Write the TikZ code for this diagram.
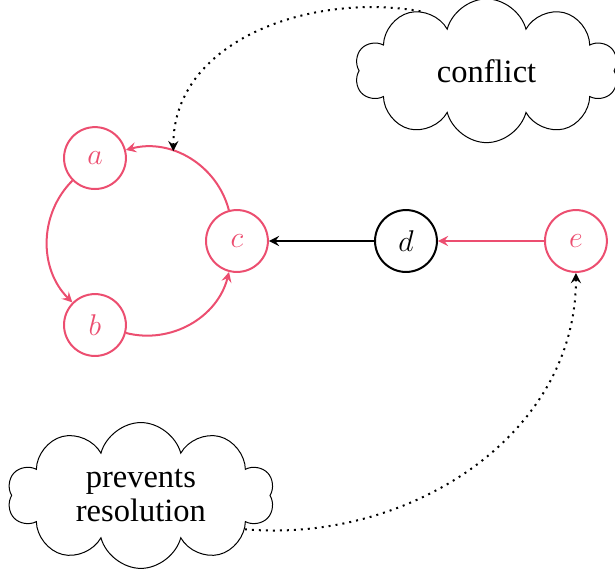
\documentclass[tikz,border=0pt]{standalone}
\usepackage{fontspec}
\setmainfont{Liberation Serif}
\usetikzlibrary{shapes.symbols}
\definecolor{cyclered}{RGB}{236,78,112}

\begin{document}
\begin{tikzpicture}[>=stealth,
    state/.style={circle,thick,draw,minimum size=0.87cm,inner sep=0pt,
      font=\fontsize{12.5}{13}\selectfont},
    incycle/.style={state,cyclered,text=cyclered},
    remark/.style={cloud,cloud puffs=10,cloud ignores aspect,draw,
      align=center,font=\fontsize{13}{13.5}\selectfont}]
    \useasboundingbox (0,0) rectangle (8.645,8.055);

    \node[incycle] (a) at (1.335,5.833) {$a$};
    \node[incycle] (b) at (1.335,3.486) {$b$};
    \node[incycle] (c) at (3.331,4.667) {$c$};
    \node[state] (d) at (5.707,4.667) {$d$};
    \node[incycle] (e) at (8.096,4.667) {$e$};

    \node[remark,minimum width=3.7cm,minimum height=2.02cm] (conflict)
      at (6.84,7.06) {conflict};
    \node[remark,minimum width=3.75cm,minimum height=2.05cm] (prevents)
      at (1.98,1.09) {prevents\\resolution};

    \begin{scope}[thick,cyclered,->]
      \draw (a) to[bend right=45] (b);
      \draw (b) to[bend right=45] (c);
      \draw (c) to[bend right=45] coordinate[pos=0.64] (hit) (a);
      \draw (e) -- (d);
    \end{scope}
    \draw[thick,->] (d) -- (c);

    % remarks pointing into the picture
    \draw[thick,dotted,->] (conflict.138) to[out=170,in=90] (hit);
    \draw[thick,dotted,->] (prevents.-18) to[out=-5,in=-90] (e);
\end{tikzpicture}
\end{document}
